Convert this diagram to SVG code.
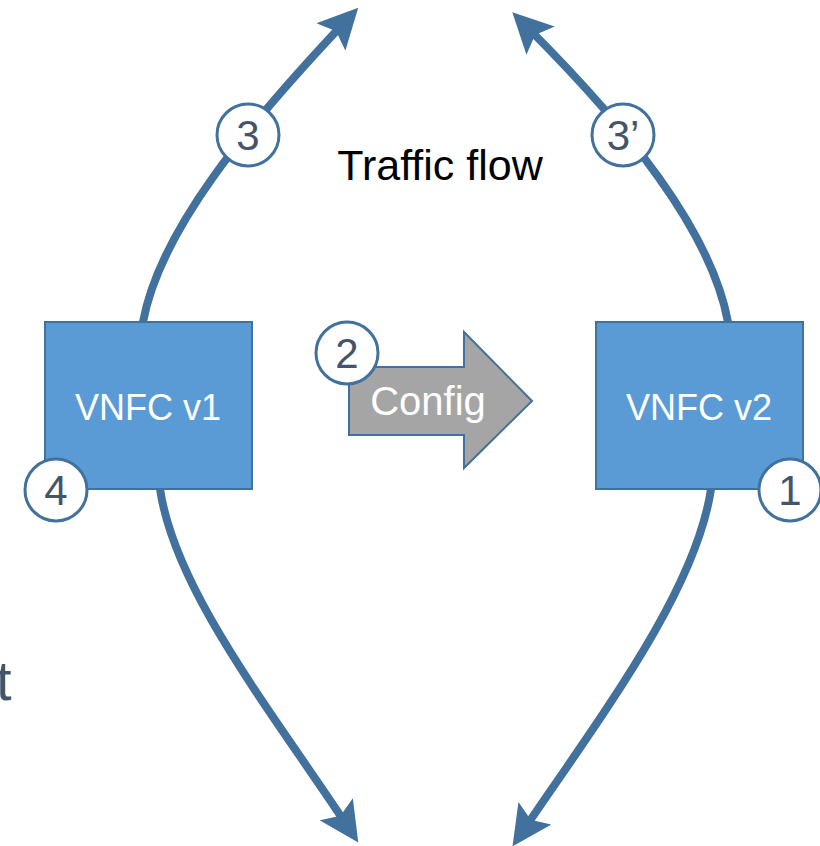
<svg xmlns="http://www.w3.org/2000/svg" width="820" height="846" viewBox="0 0 820 846">
<style>
.flow{fill:none;stroke:#41719C;stroke-width:8}
.box{fill:#5B9BD5;stroke:#41719C;stroke-width:2}
.lbl{font-family:"Liberation Sans",Arial,sans-serif;fill:#FFFFFF;text-anchor:middle}
.num circle{fill:#FFFFFF;stroke:#41719C;stroke-width:3}
.num text{font-family:"Liberation Sans",Arial,sans-serif;font-size:42px;fill:#44546A;text-anchor:middle}
</style>
<defs>
<marker id="ah" markerUnits="userSpaceOnUse" markerWidth="40" markerHeight="40" viewBox="0 0 36 36" refX="16" refY="18" orient="auto">
<path d="M0,0 L36,18 L0,36 L7,18 z" fill="#41719C"/>
</marker>
</defs>
<g id="connectors">
<path class="flow" d="M143,322 C160,230 247,126 343,24" marker-end="url(#ah)"/>
<path class="flow" d="M728,322 C711,230 627,127 528,28" marker-end="url(#ah)"/>
<path class="flow" d="M160,489 C175,590 269,708 346,824" marker-end="url(#ah)"/>
<path class="flow" d="M711,489 C696,590 604,712 525,828" marker-end="url(#ah)"/>
</g>
<g id="vnfc-v1">
<rect class="box" x="45" y="322" width="207" height="167"/>
<text class="lbl" x="148" y="420" font-size="36">VNFC v1</text>
</g>
<g id="vnfc-v2">
<rect class="box" x="596" y="322" width="207" height="167"/>
<text class="lbl" x="699" y="420" font-size="36">VNFC v2</text>
</g>
<g id="config">
<path d="M349,367 L464,367 L464,332 L532,401 L464,468 L464,435 L349,435 z" fill="#A5A5A5" stroke="#41719C" stroke-width="2"/>
<text class="lbl" x="428" y="415" font-size="40">Config</text>
</g>
<g id="traffic-flow">
<text x="440" y="180" font-family="'Liberation Sans',Arial,sans-serif" font-size="43" fill="#000000" text-anchor="middle">Traffic flow</text>
</g>
<g id="step-3" class="num"><circle cx="248" cy="135" r="31"/><text x="248" y="150">3</text></g>
<g id="step-3p" class="num"><circle cx="623" cy="135" r="31"/><text x="623" y="150">3’</text></g>
<g id="step-2" class="num"><circle cx="347" cy="353" r="31"/><text x="347" y="368">2</text></g>
<g id="step-4" class="num"><circle cx="56" cy="490" r="31"/><text x="56" y="505">4</text></g>
<g id="step-1" class="num"><circle cx="790" cy="490" r="31"/><text x="790" y="505">1</text></g>
<text x="-4" y="700" font-family="'Liberation Sans',Arial,sans-serif" font-size="56" fill="#44546A">t</text>
</svg>
